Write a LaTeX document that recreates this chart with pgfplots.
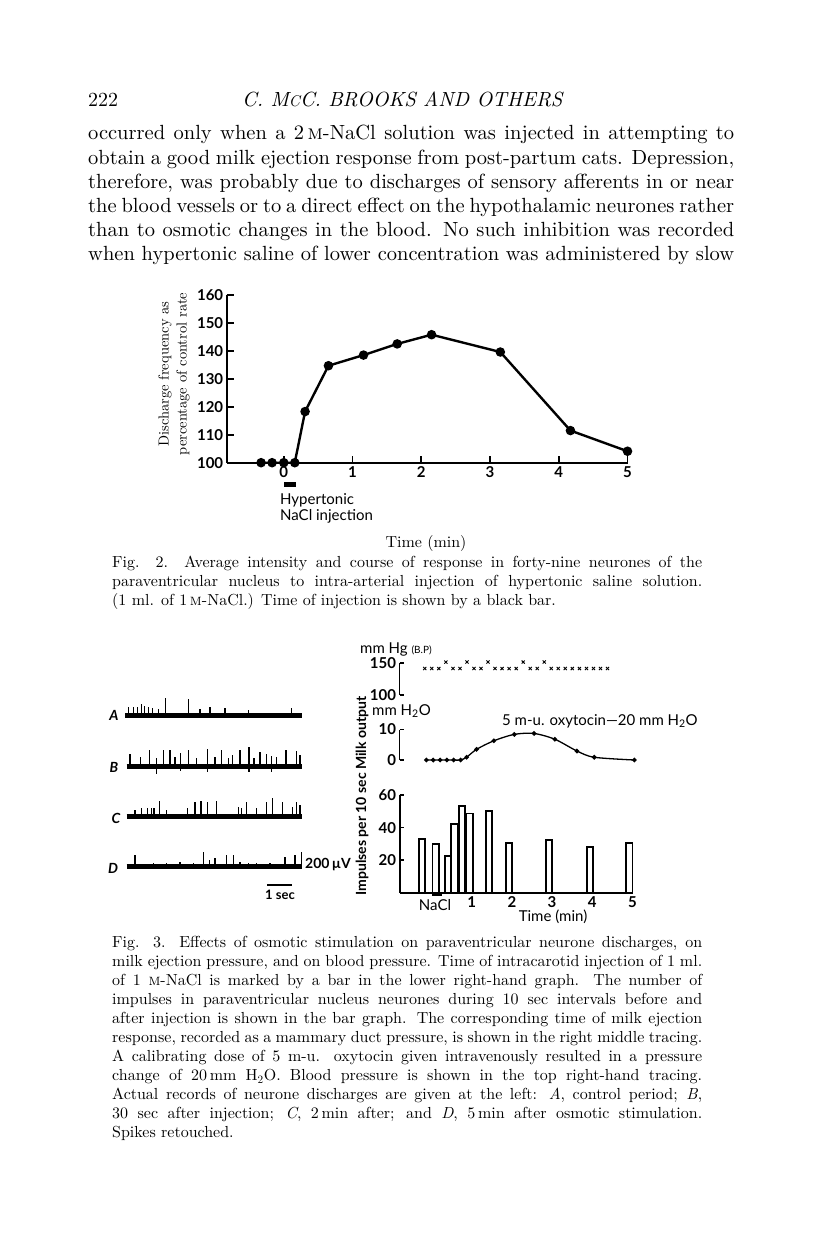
\documentclass[border=0pt]{standalone}
\usepackage{fontspec}
\setmainfont{lmroman10-regular.otf}[ItalicFont=lmroman10-italic.otf, BoldFont=lmroman10-bold.otf, SmallCapsFont=lmromancaps10-regular.otf]
\usepackage{pgfplots}
\pgfplotsset{compat=1.18}
\newfontfamily\lato{Lato}
\newcommand\bodyfont{\fontsize{20.5}{24.2}\selectfont}
\newcommand\capfont{\fontsize{16}{19}\selectfont}
\newcommand\sfnum{\lato\bfseries\fontsize{15}{15}\selectfont}
\newcommand\sftxt{\lato\fontsize{15}{15}\selectfont}
\newcommand\bline[2]{\node[anchor=base west,inner sep=0pt] at (88,#1) {\bodyfont\makebox[646pt][s]{#2}};}
\newcommand\capline[2]{\node[anchor=base west,inner sep=0pt] at (112,#1) {\capfont\makebox[590pt][s]{#2}};}
\newcommand\caplinel[2]{\node[anchor=base west,inner sep=0pt] at (112,#1) {\capfont #2};}
\begin{document}
\begin{tikzpicture}
\fill[white] (0,0) rectangle (816pt,-1249pt);
\path[use as bounding box] (0,0) rectangle (816pt,-1249pt);

\begin{scope}[x=1pt,y=-1pt]
% running head
\node[anchor=base west,inner sep=0pt] at (88,106.7) {\fontsize{20}{20}\selectfont 222};
\node[anchor=base west,inner sep=0pt] at (242,106.7) {\fontsize{20.5}{20}\selectfont\itshape C. M{\fontsize{15.5}{15}\selectfont C}C. BROOKS AND OTHERS};
% body text
\bline{140}{occurred only when a 2\,\textsc{m}-NaCl solution was injected in attempting to}
\bline{164.2}{obtain a good milk ejection response from post-partum cats. Depression,}
\bline{188.4}{therefore, was probably due to discharges of sensory afferents in or near}
\bline{212.6}{the blood vessels or to a direct effect on the hypothalamic neurones rather}
\bline{236.8}{than to osmotic changes in the blood. No such inhibition was recorded}
\bline{261}{when hypertonic saline of lower concentration was administered by slow}
% Fig 2 caption
\capline{567.5}{Fig. 2. Average intensity and course of response in forty-nine neurones of the}
\capline{586.5}{paraventricular nucleus to intra-arterial injection of hypertonic saline solution.}
\caplinel{605.5}{(1 ml. of 1\,\textsc{m}-NaCl.) Time of injection is shown by a black bar.}
% Fig 3 caption
\capline{947.7}{Fig. 3. Effects of osmotic stimulation on paraventricular neurone discharges, on}
\capline{966.7}{milk ejection pressure, and on blood pressure. Time of intracarotid injection of 1 ml.}
\capline{985.7}{of 1 \textsc{m}-NaCl is marked by a bar in the lower right-hand graph. The number of}
\capline{1004.7}{impulses in paraventricular nucleus neurones during 10 sec intervals before and}
\capline{1023.7}{after injection is shown in the bar graph. The corresponding time of milk ejection}
\capline{1042.7}{response, recorded as a mammary duct pressure, is shown in the right middle tracing.}
\capline{1061.7}{A calibrating dose of 5 m-u. oxytocin given intravenously resulted in a pressure}
\capline{1080.7}{change of 20\,mm H\textsubscript{2}O. Blood pressure is shown in the top right-hand tracing.}
\capline{1099.7}{Actual records of neurone discharges are given at the left: \textit{A}, control period; \textit{B},}
\capline{1118.7}{30 sec after injection; \textit{C}, 2\,min after; and \textit{D}, 5\,min after osmotic stimulation.}
\caplinel{1137.7}{Spikes retouched.}

% Fig 2 labels
\node[rotate=90,align=center,inner sep=0pt,font=\fontsize{14.5}{18}\selectfont] at (174,374) {Discharge frequency as\\ percentage of control rate};
\node[anchor=west,inner sep=0pt] at (280,500) {\sftxt Hypertonic};
\node[anchor=west,inner sep=0pt] at (280,516) {\sftxt NaCl injection};
\node[inner sep=0pt] at (426,543) {\fontsize{16}{16}\selectfont Time (min)};

% Fig 3 labels
\node[anchor=base west,inner sep=0pt] at (360,653) {\sftxt mm Hg {\fontsize{10}{10}\selectfont (B.P)}};
\node[anchor=west,inner sep=0pt] at (372,711) {\sftxt mm H\textsubscript{2}O};
\node[anchor=west,inner sep=0pt] at (502,721) {\sftxt 5 m-u. oxytocin—20 mm H\textsubscript{2}O};
\node[rotate=90,inner sep=0pt] at (362,796) {\lato\bfseries\fontsize{14}{14}\selectfont Impulses per 10 sec Milk output};
\node[inner sep=0pt] at (435,905) {\sftxt NaCl};
\node[inner sep=0pt] at (553,917) {\sftxt Time (min)};
\node[anchor=west,inner sep=0pt] at (305,865) {\lato\bfseries\fontsize{14}{14}\selectfont 200\,µV};
\draw[line width=1.5pt] (267,885) -- (292,885);
\node[inner sep=0pt] at (280,895) {\lato\bfseries\fontsize{13}{13}\selectfont 1 sec};
\node[inner sep=0pt] at (114,715) {\lato\bfseries\itshape\fontsize{14}{14}\selectfont A};
\node[inner sep=0pt] at (114,767) {\lato\bfseries\itshape\fontsize{14}{14}\selectfont B};
\node[inner sep=0pt] at (116,818) {\lato\bfseries\itshape\fontsize{14}{14}\selectfont C};
\node[inner sep=0pt] at (113,868) {\lato\bfseries\itshape\fontsize{14}{14}\selectfont D};
\end{scope}

% ---------- Fig 2 ----------
\begin{axis}[
  at={(226.7pt,-462.7pt)}, anchor=south west,
  scale only axis, width=400.8pt, height=167.7pt,
  xmin=-0.83, xmax=5.0, ymin=100, ymax=160,
  axis lines*=left, axis line style={line width=2pt},
  xtick={0,1,2,3,4,5}, ytick={100,110,...,160},
  tick align=inside, major tick length=7pt, tick style={line width=1.8pt,black},
  ticklabel style={font=\sfnum},
  /pgf/number format/assume math mode=true,
  clip=false,
]
\addplot[black, line width=2.4pt, mark=*, mark size=3.5pt] coordinates {
 (-0.33,100) (-0.17,100) (0,100) (0.16,100) (0.31,118.3) (0.65,134.7)
 (1.16,138.5) (1.65,142.5) (2.15,145.8) (3.15,139.6) (4.17,111.5) (5,104.1)};
\fill (axis cs:0,93.2) rectangle (axis cs:0.18,91.4);
\end{axis}

% ---------- Fig 3: blood pressure ----------
\begin{axis}[
  at={(399.5pt,-695pt)}, anchor=south west,
  scale only axis, width=236.9pt, height=32.3pt,
  xmin=-0.8, xmax=5.1, ymin=100, ymax=150,
  axis x line=none, axis y line*=left, axis line style={line width=1.6pt},
  ytick={100,150}, tick align=inside, major tick length=4pt, tick style={line width=1.6pt,black},
  ticklabel style={font=\sfnum},
  /pgf/number format/assume math mode=true,
  clip=false,
]
\addplot[only marks, mark=x, mark size=2.2pt, mark options={line width=0.9pt}] coordinates {
 (-0.17,141) (0.005,141) (0.18,141) (0.355,151) (0.53,141) (0.705,141) (0.88,151)
 (1.055,141) (1.23,141) (1.405,151) (1.58,141) (1.755,141) (1.93,141) (2.105,141)
 (2.28,151) (2.455,141) (2.63,141) (2.805,151) (2.98,141) (3.155,141) (3.33,141)
 (3.505,141) (3.68,141) (3.855,141) (4.03,141) (4.205,141) (4.38,141)};
\end{axis}

% ---------- Fig 3: milk output ----------
\begin{axis}[
  at={(399.5pt,-760pt)}, anchor=south west,
  scale only axis, width=236.9pt, height=30.5pt,
  xmin=-0.8, xmax=5.1, ymin=0, ymax=10,
  axis x line=none, axis y line*=left, axis line style={line width=1.6pt},
  ytick={0,10}, tick align=inside, major tick length=4pt, tick style={line width=1.6pt,black},
  ticklabel style={font=\sfnum},
  /pgf/number format/assume math mode=true,
  clip=false,
]
\addplot[smooth, black, line width=1.3pt, mark=*, mark size=1.6pt] coordinates {
 (-0.13,0) (0.04,0) (0.21,0) (0.38,0) (0.55,0) (0.72,0) (0.87,0.9) (1.12,3.5)
 (1.55,6.3) (2.06,8.4) (2.55,8.7) (3.07,6.8) (3.62,2.95) (4.05,0.9) (5.05,0)};
\end{axis}

% ---------- Fig 3: impulses bar graph ----------
\begin{axis}[
  at={(399.5pt,-892.7pt)}, anchor=south west,
  scale only axis, width=233.7pt, height=97.7pt,
  xmin=-0.8, xmax=5.02, ymin=0, ymax=60,
  axis lines*=left, axis line style={line width=2pt},
  xtick={1,2,3,4,5}, ytick={20,40,60},
  xtick style={draw=none},
  tick align=inside, major tick length=4pt, tick style={line width=1.6pt,black},
  ticklabel style={font=\sfnum},
  /pgf/number format/assume math mode=true,
  clip=false,
]
\addplot[ybar, bar width=0.16, bar shift=0pt, draw=black, fill=white, line width=1.8pt] coordinates {
 (-0.24,32.8) (0.10,29.9) (0.41,22.7) (0.57,42.2) (0.76,53.2) (0.95,48.7)
 (1.43,50.2) (1.93,30.5) (2.92,32.2) (3.94,28.3) (4.92,30.5)};
\fill (axis cs:0,0) rectangle (axis cs:0.25,-2.2);
\end{axis}

% ---------- Fig 3: neurone discharge records ----------
\begin{axis}[
  at={(120pt,-900pt)}, anchor=south west,
  scale only axis, width=190pt, height=210pt,
  xmin=120, xmax=310, ymin=-900, ymax=-690,
  axis lines=none, clip=false,
]
\addplot[black, line width=5pt] coordinates {(125,-715) (301.7,-715)};
\addplot[black, line width=5pt] coordinates {(126.7,-766) (302,-766)};
\addplot[black, line width=5pt] coordinates {(126.7,-816.7) (301.7,-816.7)};
\addplot[black, line width=5pt] coordinates {(126.7,-866.7) (301.7,-866.7)};
\addplot[black, line width=1.4pt, quiver={u=0,v=\thisrow{h}}] table[x=x,y=y] {
x y h
128.3 -715 8.3
133.3 -715 8.3
137.3 -715 8.3
141.7 -715 10.7
144.3 -715 9
148.3 -715 8.3
152.3 -715 7.3
158.3 -715 6
165.7 -715 17.3
188.3 -715 16
200 -715 6
210 -715 8.3
225 -715 7.3
248.3 -715 5
291.7 -715 7.3
};
\addplot[black, line width=1.4pt, quiver={u=0,v=\thisrow{h}}] table[x=x,y=y] {
x y h
130 -766 11.7
140.7 -766 9.3
149.3 -766 16
156.7 -766 7.7
163.3 -766 16
170 -766 16
175 -766 9.3
180.7 -766 12.7
188.3 -766 16
196.7 -766 7.7
207.3 -766 17
215 -766 9.3
221.7 -766 16
228.3 -766 7.7
232.7 -766 11
240 -766 16
249 -766 18.7
254 -766 7.7
260 -766 13.7
266.7 -766 11.7
271.7 -766 10.3
276.7 -766 9.3
286 -766 16
296.7 -766 15
300 -766 11
156.7 -766 -8
180.7 -766 -5
207.3 -766 -6
249 -766 -6
271.7 -766 -6
};
\addplot[black, line width=1.4pt, quiver={u=0,v=\thisrow{h}}] table[x=x,y=y] {
x y h
135 -816.7 6.7
141.7 -816.7 8.4
147.3 -816.7 8.4
151.7 -816.7 8.4
154 -816.7 9
159.3 -816.7 15.7
166.7 -816.7 6.7
187.3 -816.7 8.4
195 -816.7 15
201 -816.7 15.7
207.3 -816.7 14.4
216.7 -816.7 15.7
238.3 -816.7 10
241.7 -816.7 9
246.7 -816.7 15
256.7 -816.7 9
266.7 -816.7 15
272.7 -816.7 18.4
282.7 -816.7 15
292.7 -816.7 10
296.7 -816.7 14.4
300 -816.7 11.7
};
\addplot[black, line width=1.4pt, quiver={u=0,v=\thisrow{h}}] table[x=x,y=y] {
x y h
135 -866.7 11.7
153.3 -866.7 3.4
166.7 -866.7 3.4
180 -866.7 5
193.3 -866.7 3.4
203.3 -866.7 15
209.3 -866.7 6.7
215 -866.7 8.4
226.7 -866.7 11.7
233.3 -866.7 11.7
240 -866.7 5
248.3 -866.7 3.4
256.7 -866.7 3.4
270 -866.7 3.4
285 -866.7 10
295 -866.7 11.7
301.7 -866.7 14.4
};
\end{axis}
\end{tikzpicture}
\end{document}
